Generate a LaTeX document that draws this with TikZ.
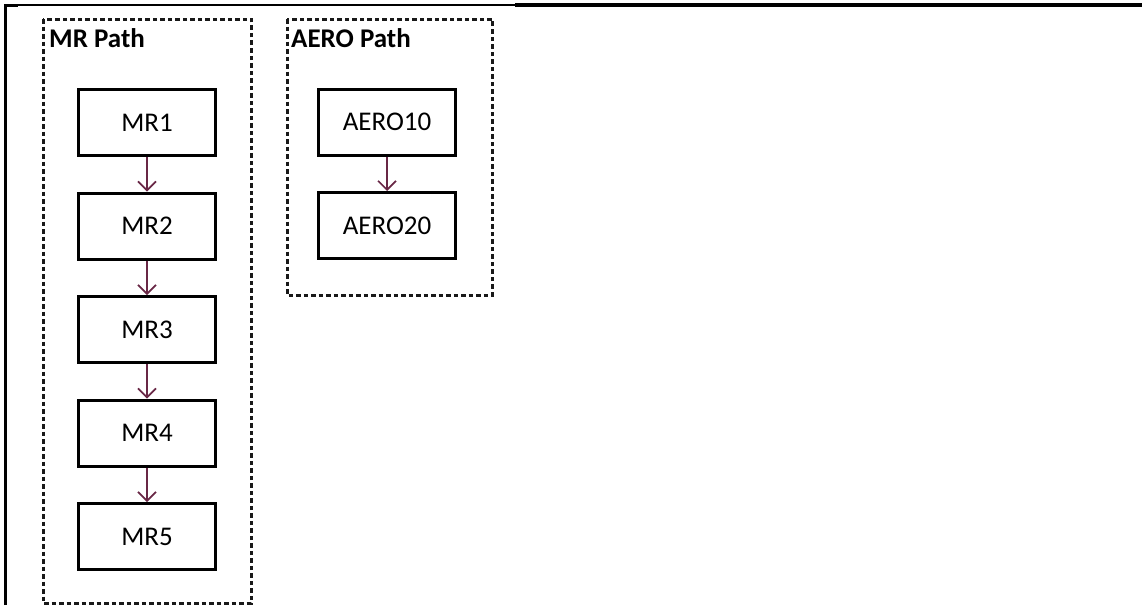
\documentclass[tikz,border=0pt]{standalone}
\usepackage{fontspec}
\setmainfont{Carlito}
\usepackage{xcolor}
\usetikzlibrary{positioning,arrows.meta}

\definecolor{linkred}{RGB}{105,40,70}
\tikzset{
  stepbox/.style={rectangle, draw=black, line width=3pt, fill=white,
    minimum width=137pt, minimum height=66pt, inner sep=0pt,
    font=\fontsize{27}{31}\selectfont},
  groupframe/.style={draw=black!90, line width=3pt, dash pattern=on 4.5pt off 3pt},
  grouptitle/.style={inner sep=0pt, font=\fontsize{27}{31}\selectfont\bfseries},
  flow/.style={draw=linkred, line width=1.6pt, -{Straight Barb[length=9pt,width=18pt,line width=1.6pt]}}
}

\begin{document}
\begin{tikzpicture}[x=1pt, y=-1pt]
\useasboundingbox (0,0) rectangle (1142,605);

% page frame
\draw[line width=3pt] (5,605) -- (5,5) -- (18,5);
\draw[line width=1.5pt] (18,5) -- (515,5);
\draw[line width=3.5pt] (515,5) -- (1142,5);

% group frames
\draw[groupframe] (43,19) rectangle (251,603);
\draw[groupframe] (287,19) rectangle (492,295);
\node[grouptitle, anchor=base west] (mrtitle) at (49,47) {MR Path};
\node[grouptitle, anchor=base west] (aerotitle) at (291,47) {AERO Path};

% MR path
\node[stepbox] (mr1) at (147,122.5) {MR1};
\node[stepbox, below=34.5pt of mr1] (mr2) {MR2};
\node[stepbox, below=34.5pt of mr2] (mr3) {MR3};
\node[stepbox, below=34.5pt of mr3] (mr4) {MR4};
\node[stepbox, below=34.5pt of mr4] (mr5) {MR5};

% AERO path
\node[stepbox] (aero10) at (387,122) {AERO10};
\node[stepbox, below=34.5pt of aero10] (aero20) {AERO20};

\foreach \a/\b in {mr1/mr2, mr2/mr3, mr3/mr4, mr4/mr5, aero10/aero20}
  \draw[flow] (\a) -- (\b);
\end{tikzpicture}
\end{document}
